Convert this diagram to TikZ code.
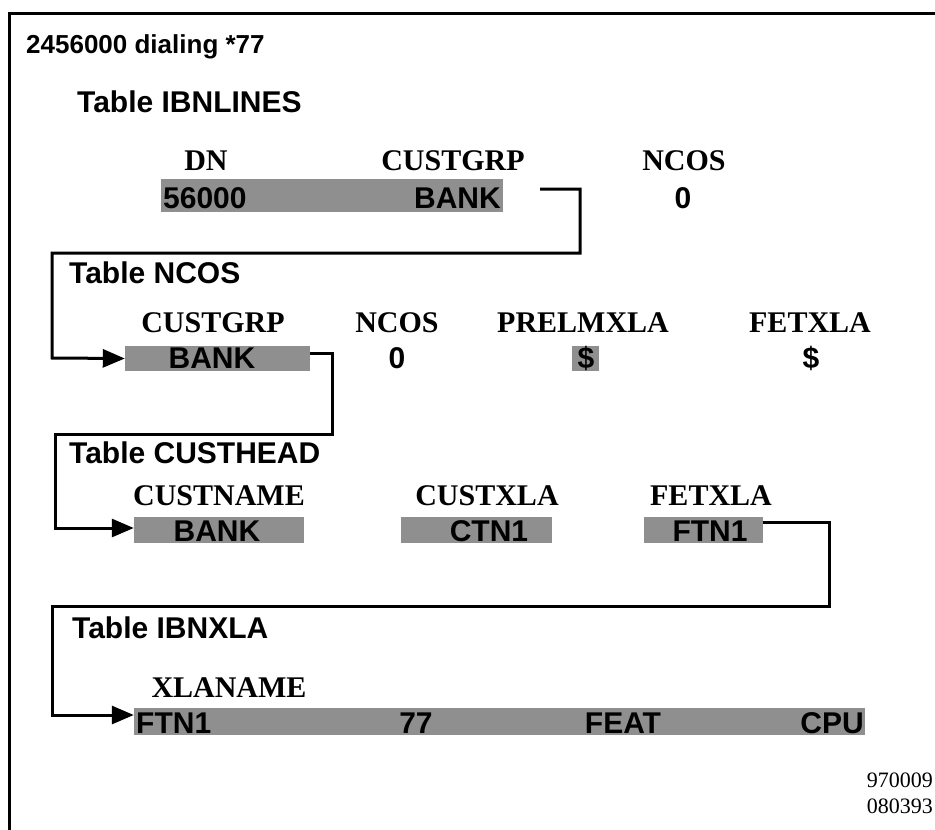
\documentclass[tikz,border=0pt]{standalone}
\usepackage{fontspec}
\setmainfont{Liberation Serif}
\newfontfamily\hsans{Liberation Sans}
\usetikzlibrary{arrows.meta}
\begin{document}
\begin{tikzpicture}[x=1pt,y=-1pt,
  sh/.style={fill=black!44, draw=none, inner sep=0pt},
  ttl/.style={font=\hsans\bfseries\fontsize{30}{30}\selectfont, anchor=base west, inner sep=0pt},
  hdr/.style={font=\bfseries\fontsize{30}{30}\selectfont, anchor=base, inner sep=0pt},
  val/.style={font=\hsans\bfseries\fontsize{30}{30}\selectfont, anchor=base, inner sep=0pt},
  foot/.style={font=\fontsize{22}{22}\selectfont, anchor=base east, inner sep=0pt},
  wire/.style={line width=3pt},
  link/.style={line width=3pt, -{Triangle[length=22pt,width=18pt]}}]
\useasboundingbox (0,0) rectangle (935,830);
% frame
\coordinate (f1) at (9,830);
\coordinate (f2) at (9,13);
\coordinate (f3) at (935,13);
\draw[wire] (f1) -- (f2) -- (f3);

\node[font=\hsans\bfseries\fontsize{26}{26}\selectfont, anchor=base west, inner sep=0pt] (call) at (26,53) {2456000 dialing *77};

% IBNLINES
\node[ttl] (t1) at (77,112) {Table IBNLINES};
\node[hdr] (h11) at (206,170) {DN};
\node[hdr] (h12) at (453,170) {CUSTGRP};
\node[hdr] (h13) at (684,170) {NCOS};
\node[sh, minimum width=342pt, minimum height=33pt] (s1) at (332,195.5) {};
\node[val, anchor=base west] (v11) at (163,208) {56000};
\node[val, anchor=base east] (v12) at (501,208) {BANK};
\node[val] (v13) at (683,208) {0};

% NCOS
\node[ttl] (t2) at (69,283) {Table NCOS};
\node[hdr] (h21) at (213,332) {CUSTGRP};
\node[hdr] (h22) at (397,332) {NCOS};
\node[hdr] (h23) at (583,332) {PRELMXLA};
\node[hdr] (h24) at (810,332) {FETXLA};
\node[sh, minimum width=185pt, minimum height=25pt] (s2) at (217.5,358.5) {};
\node[sh, minimum width=27pt, minimum height=25pt] (s2b) at (585.5,358.5) {};
\node[val] (v21) at (212,368) {BANK};
\node[val] (v22) at (397,368) {0};
\node[val] (v23) at (586,368) {\$};
\node[val] (v24) at (811,368) {\$};

% CUSTHEAD
\node[ttl] (t3) at (69,463) {Table CUSTHEAD};
\node[hdr] (h31) at (219,505) {CUSTNAME};
\node[hdr] (h32) at (487,505) {CUSTXLA};
\node[hdr] (h33) at (711,505) {FETXLA};
\node[sh, minimum width=170pt, minimum height=26pt] (s3) at (219,530) {};
\node[sh, minimum width=151pt, minimum height=26pt] (s3b) at (476.5,530) {};
\node[sh, minimum width=119pt, minimum height=26pt] (s3c) at (703.5,530) {};
\node[val] (v31) at (217,541) {BANK};
\node[val] (v32) at (489,541) {CTN1};
\node[val] (v33) at (710,541) {FTN1};

% IBNXLA
\node[ttl] (t4) at (72,638) {Table IBNXLA};
\node[hdr] (h41) at (229,697) {XLANAME};
\node[sh, minimum width=731pt, minimum height=27pt] (s4) at (499.5,721.5) {};
\node[val, anchor=base west] (v41) at (136,733) {FTN1};
\node[val] (v42) at (416,733) {77};
\node[val] (v43) at (623,733) {FEAT};
\node[val, anchor=base east] (v44) at (864,733) {CPU};

% footer
\node[foot] (n1) at (933,787) {970009};
\node[foot] (n2) at (933,813) {080393};

% connectors
\coordinate (c1) at (540,189);
\draw[link] (c1) -- (580,189) -- (580,253) -- (52,253) -- (52,358) -- (s2.west);
\coordinate (c2) at (s2.east |- 0,353);
\draw[link] (c2) -- (332,353) -- (332,434) -- (55,434) -- (55,528) -- (s3.west |- 0,528);
\coordinate (c3) at (s3c.east |- 0,522);
\draw[link] (c3) -- (829,522) -- (829,606) -- (52,606) -- (52,715) -- (s4.west |- 0,715);
\end{tikzpicture}
\end{document}
